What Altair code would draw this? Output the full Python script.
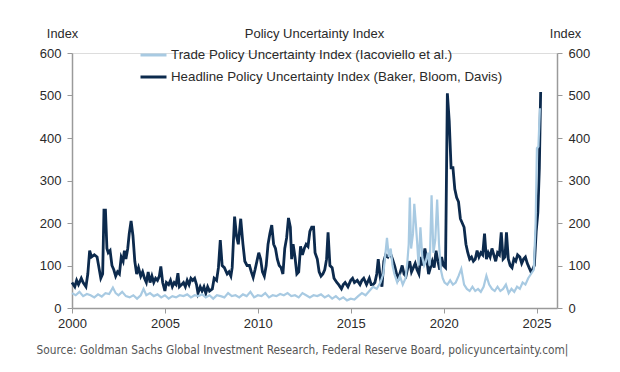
import altair as alt
import pandas as pd

TRADE = "Trade Policy Uncertainty Index (Iacoviello et al.)"
HEAD = "Headline Policy Uncertainty Index (Baker, Bloom, Davis)"
SOURCE = "Source: Goldman Sachs Global Investment Research, Federal Reserve Board, policyuncertainty.com|"
TITLE = "Policy Uncertainty Index"

x_ticks = [2000, 2005, 2010, 2015, 2020, 2025]
y_ticks = [0, 100, 200, 300, 400, 500, 600]

head_t = [2000.00, 2000.15, 2000.25, 2000.35, 2000.50, 2000.60, 2000.75, 2000.85, 2000.95,
          2001.05, 2001.20, 2001.35, 2001.45, 2001.55, 2001.65, 2001.72, 2001.80, 2001.88, 2001.95,
          2002.05, 2002.15, 2002.25, 2002.35, 2002.45, 2002.55, 2002.65, 2002.75, 2002.82, 2002.90,
          2003.00, 2003.08, 2003.18, 2003.28, 2003.38, 2003.48, 2003.58, 2003.70, 2003.80, 2003.90,
          2004.00, 2004.10, 2004.20, 2004.30, 2004.40, 2004.50, 2004.60, 2004.70, 2004.78, 2004.88,
          2005.00, 2005.08, 2005.20, 2005.30, 2005.40, 2005.50, 2005.60, 2005.70, 2005.78, 2005.90,
          2006.00, 2006.10, 2006.20, 2006.30, 2006.40, 2006.50, 2006.60, 2006.70, 2006.78, 2006.90,
          2007.00, 2007.10, 2007.20, 2007.30, 2007.40, 2007.55, 2007.65, 2007.78, 2007.88, 2007.98,
          2008.08, 2008.20, 2008.35, 2008.45, 2008.55, 2008.62, 2008.75, 2008.85, 2008.95,
          2009.08, 2009.20, 2009.30, 2009.42, 2009.55, 2009.65, 2009.75, 2009.85, 2009.95,
          2010.05, 2010.15, 2010.25, 2010.35, 2010.45, 2010.55, 2010.65, 2010.75, 2010.85, 2010.95,
          2011.05, 2011.15, 2011.25, 2011.35, 2011.45, 2011.55, 2011.65, 2011.75, 2011.82, 2011.90,
          2012.00, 2012.10, 2012.20, 2012.30, 2012.40, 2012.50, 2012.60, 2012.70, 2012.80, 2012.90,
          2013.00, 2013.08, 2013.20, 2013.30, 2013.40, 2013.50, 2013.60, 2013.70, 2013.78, 2013.88,
          2014.00, 2014.10, 2014.25, 2014.35, 2014.50, 2014.60, 2014.70, 2014.85,
          2015.00, 2015.10, 2015.20, 2015.35, 2015.50, 2015.60, 2015.70, 2015.85,
          2016.00, 2016.10, 2016.20, 2016.30, 2016.40, 2016.48, 2016.58, 2016.68, 2016.78, 2016.88,
          2017.00, 2017.12, 2017.25, 2017.37, 2017.47, 2017.57, 2017.67, 2017.77, 2017.87, 2017.97,
          2018.07, 2018.17, 2018.27, 2018.37, 2018.47, 2018.57, 2018.67, 2018.77, 2018.87, 2018.99,
          2019.09, 2019.19, 2019.29, 2019.39, 2019.49, 2019.59, 2019.69, 2019.79, 2019.89, 2019.99,
          2020.10, 2020.20, 2020.30, 2020.40, 2020.50, 2020.60, 2020.70, 2020.80, 2020.90,
          2021.00, 2021.10, 2021.20, 2021.30, 2021.40, 2021.50, 2021.60, 2021.70, 2021.80, 2021.90,
          2022.00, 2022.10, 2022.20, 2022.30, 2022.40, 2022.50, 2022.60, 2022.70, 2022.80, 2022.90,
          2023.00, 2023.10, 2023.20, 2023.30, 2023.38, 2023.48, 2023.58, 2023.68, 2023.78, 2023.88, 2023.98,
          2024.10, 2024.20, 2024.30, 2024.40, 2024.50, 2024.60, 2024.70, 2024.78, 2024.88, 2024.98,
          2025.07, 2025.15, 2025.22]
head_v = [60, 50, 65, 55, 70, 60, 50, 80, 135,
          120, 125, 120, 95, 70, 80, 230, 230, 140, 130,
          135, 100, 90, 75, 85, 80, 120, 110, 135, 115,
          140, 175, 205, 170, 110, 80, 95, 75, 85, 70,
          60, 85, 60, 75, 60, 70, 65, 75, 98, 60,
          40, 60, 55, 65, 50, 60, 55, 82, 50, 55,
          60, 50, 65, 55, 70, 65, 70, 55, 35, 50,
          40, 50, 35, 50, 40, 45, 70, 65, 95, 160,
          100, 95, 80, 85, 75, 95, 215, 170, 150,
          210, 150, 110, 100, 100, 85, 72, 90, 110,
          130, 115, 85, 75, 100, 150, 175, 195, 150, 140,
          115, 100, 95, 80, 140, 165, 212, 190, 115, 150,
          120, 80, 85, 145, 125, 140, 150, 145, 180, 190,
          190, 130, 115, 85, 75, 80, 90, 115, 178, 100,
          95, 70, 60, 55, 45, 55, 60, 50,
          65, 70, 60, 65, 55, 65, 70, 55,
          70, 55, 55, 60, 80, 115, 75, 50, 110, 125,
          120, 130, 115, 98, 80, 70, 85, 100, 80, 75,
          95, 110, 85, 95, 105, 90, 80, 120, 100, 140,
          115, 80, 95, 110, 95, 135, 110, 90, 120, 100,
          95, 505, 440, 330, 330, 280, 260, 250, 210,
          200, 190, 150, 130, 115, 120, 110, 115, 135, 120,
          130, 125, 175, 115, 130, 120, 140, 125, 110, 130,
          125, 178, 115, 120, 178, 115, 100, 95, 115, 110, 125,
          120, 105, 115, 120, 105, 95, 85, 90, 100, 180,
          225, 330, 508]

trade_t = [2000.0, 2000.2, 2000.4, 2000.6, 2000.8, 2001.0, 2001.2, 2001.4, 2001.6, 2001.8,
           2002.0, 2002.2, 2002.35, 2002.5, 2002.7, 2002.9, 2003.1, 2003.3, 2003.5, 2003.7, 2003.85,
           2004.0, 2004.2, 2004.4, 2004.6, 2004.8, 2005.0, 2005.2, 2005.4, 2005.6, 2005.8,
           2006.0, 2006.2, 2006.4, 2006.6, 2006.8, 2007.0, 2007.2, 2007.4, 2007.6, 2007.8,
           2008.0, 2008.2, 2008.4, 2008.6, 2008.8, 2009.0, 2009.2, 2009.4, 2009.6, 2009.8,
           2010.0, 2010.2, 2010.4, 2010.6, 2010.8, 2011.0, 2011.2, 2011.4, 2011.6, 2011.8,
           2012.0, 2012.2, 2012.4, 2012.6, 2012.8, 2013.0, 2013.2, 2013.4, 2013.6, 2013.8,
           2014.0, 2014.2, 2014.4, 2014.6, 2014.8, 2015.0, 2015.2, 2015.4, 2015.6, 2015.8,
           2016.0, 2016.2, 2016.4, 2016.6, 2016.75, 2016.85, 2016.95, 2017.05, 2017.15, 2017.25,
           2017.35, 2017.5, 2017.65, 2017.8, 2017.95, 2018.05, 2018.12, 2018.18, 2018.25, 2018.35,
           2018.42, 2018.5, 2018.58, 2018.65, 2018.75, 2018.85, 2018.95, 2019.05, 2019.15, 2019.25,
           2019.35, 2019.45, 2019.55, 2019.65, 2019.75, 2019.85, 2019.95, 2020.05, 2020.2, 2020.35,
           2020.5, 2020.65, 2020.8, 2020.95, 2021.1, 2021.25, 2021.4, 2021.55, 2021.7, 2021.85,
           2022.0, 2022.15, 2022.3, 2022.45, 2022.6, 2022.75, 2022.9, 2023.05, 2023.2, 2023.35,
           2023.5, 2023.65, 2023.8, 2023.95, 2024.1, 2024.25, 2024.4, 2024.55, 2024.7, 2024.85,
           2024.95, 2025.02, 2025.1, 2025.18]
trade_v = [35, 30, 38, 28, 33, 30, 25, 32, 27, 35,
           33, 48, 35, 30, 38, 28, 25, 30, 22, 30, 45,
           30, 35, 28, 32, 25, 30, 22, 28, 25, 30,
           28, 32, 25, 30, 28, 32, 25, 30, 22, 30,
           28, 25, 35, 28, 30, 25, 32, 28, 38, 25,
           30, 28, 35, 25, 30, 28, 33, 30, 35, 28,
           30, 25, 35, 30, 25, 30, 28, 32, 25, 30,
           22, 28, 20, 25, 18, 22, 20, 28, 35, 30,
           40, 50, 45, 60, 80, 120, 165, 120, 140, 100,
           80, 60, 75, 55, 70, 110, 150, 260, 140, 175,
           245, 200, 150, 100, 190, 120, 100, 110, 130, 100,
           265, 130, 160, 255, 150, 90, 70, 60, 55, 65,
           55, 60, 75, 92, 55, 45, 40, 50, 40, 45,
           38, 50, 76, 55, 45, 40, 50, 40, 45, 55,
           35, 45, 38, 50, 45, 60, 55, 70, 80, 90,
           200, 376, 380, 470]

df_head = pd.DataFrame({"t": head_t, "v": head_v, "series": HEAD})
df_trade = pd.DataFrame({"t": trade_t, "v": trade_v, "series": TRADE})

AXIS_GRAY = "#9a9a9a"
LABEL = "#2a2a2a"
FONT = "Liberation Sans"
SRC_FONT = "'Liberation Sans Narrow', 'DejaVu Sans Condensed', 'Roboto Condensed', Roboto, sans-serif"

xenc = alt.X(
    "t:Q",
    scale=alt.Scale(domain=[2000, 2026.1], nice=False, zero=False),
    axis=alt.Axis(
        values=x_ticks, format="d", grid=False, tickSize=5, labelPadding=4,
        labelFlush=False,
        labelFontSize=13, labelColor=LABEL, labelFont=FONT,
        domainColor=AXIS_GRAY, tickColor=AXIS_GRAY, domainWidth=1.5,
        title=SOURCE, titleX=-36, titleY=45, titleAlign="left",
        titleBaseline="alphabetic", titleFont=SRC_FONT,
        titleFontSize=11.8, titleFontWeight="normal", titleColor="#555555",
    ),
)

def yenc(orient, tx):
    return alt.Y(
        "v:Q",
        scale=alt.Scale(domain=[0, 600], nice=False),
        axis=alt.Axis(
            orient=orient, values=y_ticks, grid=False, tickSize=5, labelPadding=6,
            labelFontSize=13, labelColor=LABEL, labelFont=FONT,
            domainColor=AXIS_GRAY, tickColor=AXIS_GRAY, domainWidth=1.5,
            title="Index", titleAngle=0, titleX=tx, titleY=-16,
            titleAlign="center", titleBaseline="alphabetic",
            titleFont=FONT, titleFontSize=12.8, titleFontWeight="normal",
            titleColor=LABEL,
        ),
    )

color = alt.Color(
    "series:N",
    scale=alt.Scale(domain=[TRADE, HEAD], range=["#a8cae2", "#0c2a4d"]),
    legend=alt.Legend(
        title=None, orient="none", legendX=67, legendY=-7,
        symbolType="stroke", symbolSize=676, symbolStrokeWidth=3,
        labelFont=FONT, labelFontSize=13.3, labelColor=LABEL,
        labelOffset=3, rowPadding=4, clipHeight=18, labelLimit=500,
    ),
)

head_line = alt.Chart(df_head).mark_line(strokeWidth=2.8).encode(
    x=xenc, y=yenc("left", -10), color=color)
trade_line = alt.Chart(df_trade).mark_line(strokeWidth=2.2).encode(
    x=xenc, y=yenc("left", -10), color=color)
right_axis = alt.Chart(df_head).mark_line(opacity=0).encode(
    x=xenc, y=yenc("right", 8))

left = alt.layer(head_line, trade_line)
chart = alt.layer(left, right_axis).resolve_scale(y="independent").properties(
    width=485, height=255,
    title=alt.TitleParams(TITLE, anchor="middle", font=FONT, fontSize=13,
                          fontWeight="normal", color=LABEL, offset=17,
                          baseline="alphabetic", dy=41),
    autosize=alt.AutoSizeParams(type="none"),
    padding={"left": 64, "top": 45, "right": 55, "bottom": 56},
).configure_view(strokeWidth=0).configure(background="white")

chart.save("out.html", embed_options={"renderer": "svg", "actions": False})
